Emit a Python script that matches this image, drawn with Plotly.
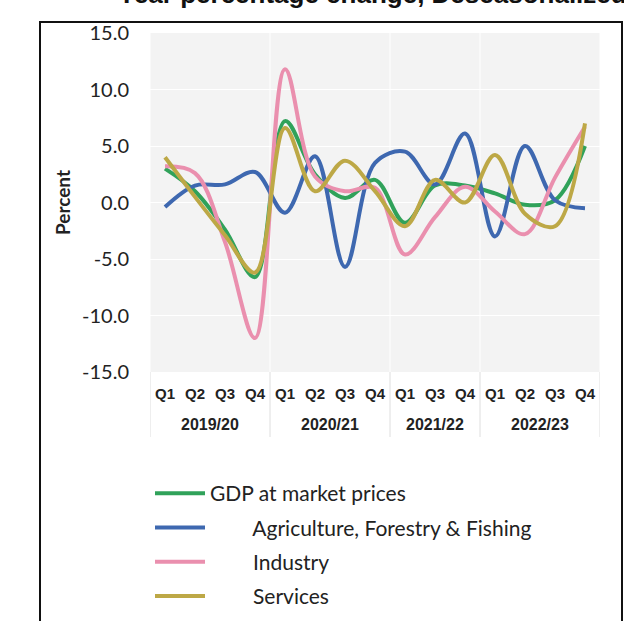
import plotly.graph_objects as go

years = ['2019/20'] * 4 + ['2020/21'] * 4 + ['2021/22'] * 3 + ['2022/23'] * 4
quarters = ['Q1', 'Q2', 'Q3', 'Q4', 'Q1', 'Q2', 'Q3', 'Q4', 'Q1', 'Q3', 'Q4', 'Q1', 'Q2', 'Q3', 'Q4']

gdp = [3.0, 1.0, -2.4, -6.6, 7.2, 2.5, 0.4, 2.0, -1.8, 1.5, 1.5, 0.8, -0.2, 0.2, 5.0]
agri = [-0.4, 1.5, 1.6, 2.7, -0.9, 4.1, -5.7, 3.5, 4.5, 1.6, 6.1, -3.0, 5.0, 0.2, -0.5]
industry = [3.2, 2.6, -3.5, -12.0, 11.8, 2.3, 1.0, 1.3, -4.6, -1.3, 1.4, -0.8, -2.8, 2.2, 6.7]
services = [4.0, 0.5, -2.9, -6.2, 6.6, 1.0, 3.7, 1.0, -2.1, 2.0, 0.0, 4.2, -1.0, -2.1, 7.0]

y_ticks = [-15, -10, -5, 0, 5, 10, 15]
y_tick_labels = ['-15.0', '-10.0', '-5.0', '0.0', '5.0', '10.0', '15.0']

names = ['GDP at market prices',
         'Agriculture, Forestry & Fishing',
         'Industry',
         'Services']
colors = ['#30a25a', '#3e68b0', '#ea8fae', '#bda846']
series = [gdp, agri, industry, services]
indent = '\u00a0' * 8

xpos = list(range(len(quarters)))

fig = go.Figure()
for i, (nm, col, vals) in enumerate(zip(names, colors, series)):
    label = nm if i == 0 else indent + nm
    fig.add_trace(go.Scatter(
        x=xpos, y=vals, mode='lines', name=label,
        legendgroup=str(i),
        line=dict(color=col, width=4, shape='spline', smoothing=1.0),
    ))

L, R, T, B = 150, 24, 33, 249
W, H = 624, 621
pw, ph = W - L - R, H - T - B

def py(pix):
    return (T + ph - pix) / ph

def px(pix):
    return (pix - L) / pw

groups = []
start = 0
for i in range(1, len(years) + 1):
    if i == len(years) or years[i] != years[start]:
        groups.append((years[start], start, i - 1))
        start = i

shapes = []
annotations = []
bounds = sorted({g[1] - 0.5 for g in groups} | {groups[-1][2] + 0.5})
for b in bounds:
    shapes.append(dict(type='line', xref='x', yref='paper', x0=b, x1=b,
                       y0=py(437), y1=0, line=dict(color='#dedede', width=1), layer='below'))
    shapes.append(dict(type='line', xref='x', yref='paper', x0=b, x1=b,
                       y0=0, y1=1, line=dict(color='white', width=1), layer='below'))
for name, s, e in groups:
    annotations.append(dict(
        text='<b>' + name + '</b>', xref='x', yref='paper',
        x=(s + e) / 2, y=py(424), xanchor='center', yanchor='middle',
        showarrow=False,
        font=dict(family='Liberation Sans, Arial', size=16, color='#222'),
    ))

annotations.append(dict(
    text='<b>Year percentage change, Deseasonalized</b>',
    xref='paper', yref='paper',
    x=px(117), xanchor='left',
    y=py(10), yanchor='bottom',
    showarrow=False, borderpad=0,
    font=dict(family='Liberation Sans, Arial', size=26, color='#111'),
))

shapes.append(dict(
    type='rect', xref='paper', yref='paper',
    x0=px(40), x1=px(622), y0=py(660), y1=py(22),
    line=dict(color='#111', width=2), fillcolor='rgba(0,0,0,0)',
))

fig.update_layout(
    width=W, height=H,
    margin=dict(l=L, r=R, t=T, b=B, autoexpand=False),
    paper_bgcolor='white',
    plot_bgcolor='#f3f3f3',
    showlegend=True,
    legend=dict(
        x=0, xanchor='left',
        y=py(473), yanchor='top',
        font=dict(family='Lato, Calibri, sans-serif', size=21, color='#222'),
        bgcolor='rgba(0,0,0,0)',
        tracegroupgap=4,
        itemwidth=50,
    ),
    xaxis=dict(
        range=[-0.5, len(quarters) - 0.5],
        tickmode='array', tickvals=xpos, ticktext=quarters,
        showgrid=False, zeroline=False, showline=False, ticks='',
        ticklabelstandoff=11,
        tickfont=dict(family='Liberation Sans, Arial', size=15, color='#222', weight='bold'),
    ),
    yaxis=dict(
        range=[-15, 15], tickmode='array', tickvals=y_ticks, ticktext=y_tick_labels,
        showgrid=True, gridcolor='white', gridwidth=1,
        zeroline=False, showline=False, ticks='',
        ticklabelstandoff=20,
        tickfont=dict(family='Lato, Calibri, sans-serif', size=20, color='#222'),
        title=dict(text='Percent', standoff=6,
                   font=dict(family='Lato, Calibri, sans-serif', size=19, color='#222', weight='bold')),
    ),
    annotations=annotations,
    shapes=shapes,
)

fig.write_html('out.html', config={'displayModeBar': False},
               post_script="document.body.style.margin='0px';")
